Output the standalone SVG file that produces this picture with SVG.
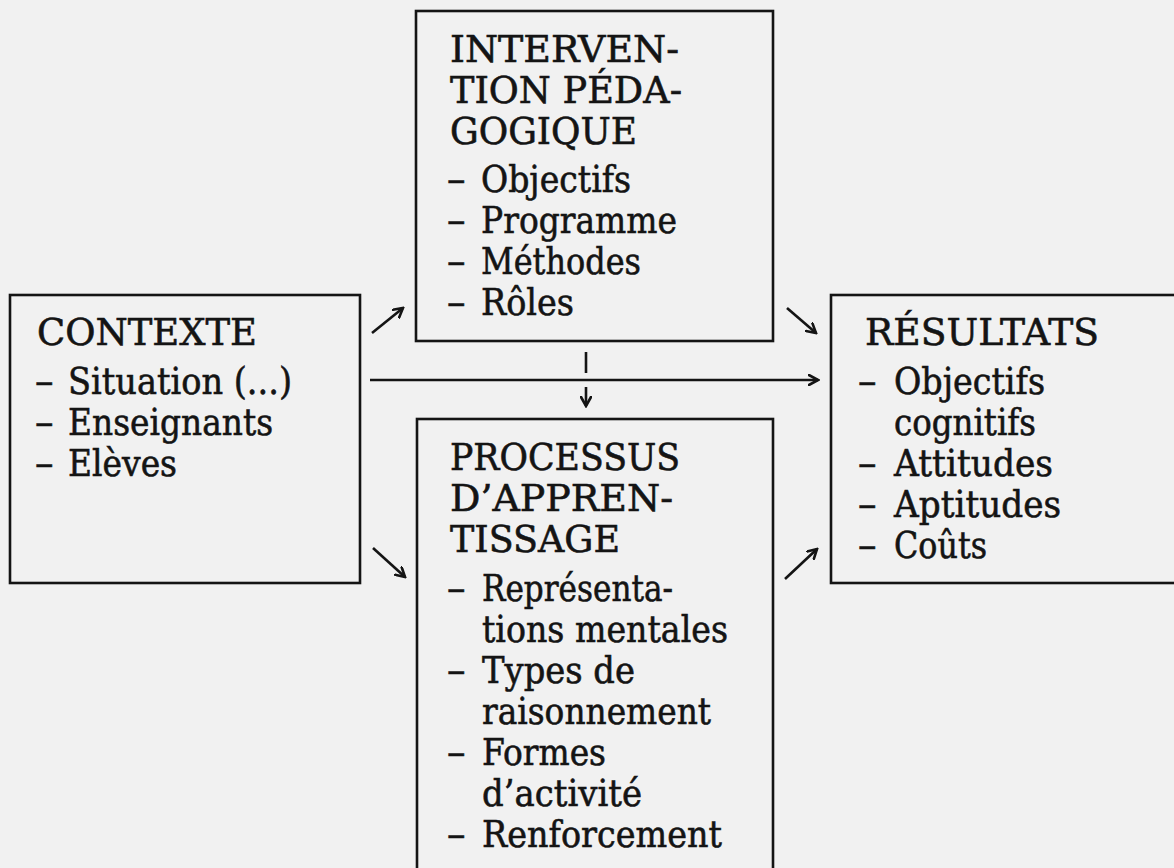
<svg xmlns="http://www.w3.org/2000/svg" width="1174" height="868" viewBox="0 0 1174 868">
  <defs>
    <style>
      .box { fill: none; stroke: #141414; stroke-width: 2.6; }
      .t { font-family: "DejaVu Serif", "Liberation Serif", serif; font-size: 37px; fill: #141414; stroke: #141414; stroke-width: 0.6; }
      .c { stroke: #141414; stroke-width: 2.6; fill: none; }
    </style>
    <marker id="ah" viewBox="-10 -6 12 12" refX="0" refY="0" markerWidth="12" markerHeight="12" markerUnits="userSpaceOnUse" orient="auto">
      <path d="M-9,-5 L0,0 L-9,5" fill="none" stroke="#141414" stroke-width="2.6" stroke-linecap="round" stroke-linejoin="miter"/>
    </marker>
  </defs>
  <rect x="0" y="0" width="1174" height="868" fill="#f1f1f1"/>

  <g id="contexte">
    <rect class="box" x="10" y="295" width="350" height="288"/>
    <text class="t" x="37" y="345" textLength="220" lengthAdjust="spacingAndGlyphs">CONTEXTE</text>
    <text class="t" x="35" y="394">–</text>
    <text class="t" x="68" y="394" textLength="224" lengthAdjust="spacingAndGlyphs">Situation (...)</text>
    <text class="t" x="35" y="435">–</text>
    <text class="t" x="68" y="435" textLength="205" lengthAdjust="spacingAndGlyphs">Enseignants</text>
    <text class="t" x="35" y="476">–</text>
    <text class="t" x="68" y="476" textLength="109" lengthAdjust="spacingAndGlyphs">Elèves</text>
  </g>

  <g id="intervention">
    <rect class="box" x="416" y="11" width="357" height="330"/>
    <text class="t" x="450" y="62" textLength="229" lengthAdjust="spacingAndGlyphs">INTERVEN-</text>
    <text class="t" x="450" y="103" textLength="232" lengthAdjust="spacingAndGlyphs">TION PÉDA-</text>
    <text class="t" x="450" y="144" textLength="187" lengthAdjust="spacingAndGlyphs">GOGIQUE</text>
    <text class="t" x="447" y="192">–</text>
    <text class="t" x="481" y="192" textLength="150" lengthAdjust="spacingAndGlyphs">Objectifs</text>
    <text class="t" x="447" y="233">–</text>
    <text class="t" x="481" y="233" textLength="196" lengthAdjust="spacingAndGlyphs">Programme</text>
    <text class="t" x="447" y="274">–</text>
    <text class="t" x="481" y="274" textLength="160" lengthAdjust="spacingAndGlyphs">Méthodes</text>
    <text class="t" x="447" y="315">–</text>
    <text class="t" x="481" y="315" textLength="93" lengthAdjust="spacingAndGlyphs">Rôles</text>
  </g>

  <g id="processus">
    <rect class="box" x="417" y="419" width="356" height="480"/>
    <text class="t" x="450" y="470" textLength="230" lengthAdjust="spacingAndGlyphs">PROCESSUS</text>
    <text class="t" x="450" y="511" textLength="223" lengthAdjust="spacingAndGlyphs">D’APPREN-</text>
    <text class="t" x="450" y="552" textLength="170" lengthAdjust="spacingAndGlyphs">TISSAGE</text>
    <text class="t" x="447" y="601">–</text>
    <text class="t" x="482" y="601" textLength="191" lengthAdjust="spacingAndGlyphs">Représenta-</text>
    <text class="t" x="482" y="642" textLength="246" lengthAdjust="spacingAndGlyphs">tions mentales</text>
    <text class="t" x="447" y="683">–</text>
    <text class="t" x="482" y="683" textLength="153" lengthAdjust="spacingAndGlyphs">Types de</text>
    <text class="t" x="482" y="724" textLength="229" lengthAdjust="spacingAndGlyphs">raisonnement</text>
    <text class="t" x="447" y="765">–</text>
    <text class="t" x="482" y="765" textLength="124" lengthAdjust="spacingAndGlyphs">Formes</text>
    <text class="t" x="482" y="806" textLength="160" lengthAdjust="spacingAndGlyphs">d’activité</text>
    <text class="t" x="447" y="847">–</text>
    <text class="t" x="482" y="847" textLength="240" lengthAdjust="spacingAndGlyphs">Renforcement</text>
  </g>

  <g id="resultats">
    <rect class="box" x="831" y="295" width="370" height="288"/>
    <text class="t" x="865" y="345" textLength="234" lengthAdjust="spacingAndGlyphs">RÉSULTATS</text>
    <text class="t" x="858" y="394">–</text>
    <text class="t" x="894" y="394" textLength="151" lengthAdjust="spacingAndGlyphs">Objectifs</text>
    <text class="t" x="894" y="435" textLength="142" lengthAdjust="spacingAndGlyphs">cognitifs</text>
    <text class="t" x="858" y="476">–</text>
    <text class="t" x="894" y="476" textLength="159" lengthAdjust="spacingAndGlyphs">Attitudes</text>
    <text class="t" x="858" y="517">–</text>
    <text class="t" x="894" y="517" textLength="167" lengthAdjust="spacingAndGlyphs">Aptitudes</text>
    <text class="t" x="858" y="558">–</text>
    <text class="t" x="894" y="558" textLength="93" lengthAdjust="spacingAndGlyphs">Coûts</text>
  </g>

  <g id="connectors">
    <line class="c" x1="372" y1="333" x2="403" y2="308" marker-end="url(#ah)"/>
    <line class="c" x1="787" y1="308" x2="816" y2="333" marker-end="url(#ah)"/>
    <line class="c" x1="373" y1="548" x2="405" y2="577" marker-end="url(#ah)"/>
    <line class="c" x1="785" y1="579" x2="817" y2="549" marker-end="url(#ah)"/>
    <line class="c" x1="370" y1="380" x2="818" y2="380" marker-end="url(#ah)"/>
    <line class="c" x1="586" y1="352" x2="586" y2="373"/>
    <line class="c" x1="586" y1="387" x2="586" y2="406" marker-end="url(#ah)"/>
  </g>
</svg>
